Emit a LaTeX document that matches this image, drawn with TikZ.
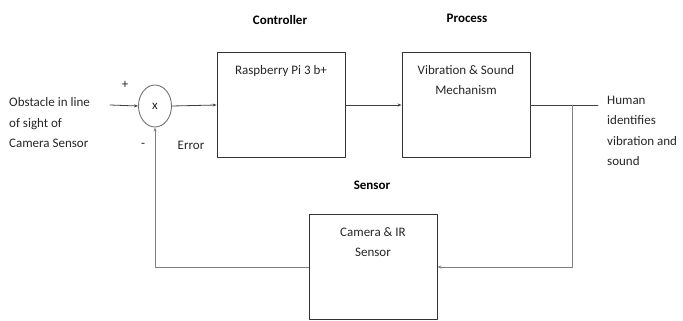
\documentclass[tikz,border=0pt]{standalone}
\usepackage{fontspec}
\setmainfont{Carlito}
\usetikzlibrary{arrows.meta,positioning,shapes.geometric}

\begin{document}
\begin{tikzpicture}[x=1pt,y=-1pt,line cap=round,line join=round,
		font=\fontsize{13}{20.5}\selectfont,
		block/.style={draw=black!80,line width=0.9pt,minimum width=128pt,minimum height=105pt,inner sep=0pt},
		blocktext/.style={text=black!85,align=center,anchor=north,inner sep=0pt},
		title/.style={font=\fontsize{13}{14}\selectfont\bfseries,text=black},
		sig/.style={draw=black!75,line width=0.8pt,-{Stealth[length=4pt,width=3pt]}},
		fb/.style={draw=black!50,line width=0.9pt}]
	\useasboundingbox (0,0) rectangle (683,321);

	% Blocks
	\node[block] (ctrl) at (281,105) {};
	\node[blocktext,below=13pt of ctrl.north] {Raspberry Pi 3 b+};
	\node[block] (proc) at (466,105) {};
	\node[blocktext,below=13pt of proc.north] {Vibration \& Sound\\Mechanism};
	\node[block] (sens) at (373,267) {};
	\node[blocktext,below=13pt of sens.north] {Camera \& IR\\Sensor};

	% Comparator
	\node[ellipse,draw=black!55,line width=0.9pt,minimum width=33pt,minimum height=42pt,inner sep=0pt,text=black!85] (sum) at (155,106) {x};

	% Titles
	\node[title] (tctrl) at (280,20) {Controller};
	\node[title] (tproc) at (467,18) {Process};
	\node[title] (tsens) at (372,185) {Sensor};

	% Signals
	\node[text=black!85,align=left,anchor=west,inner sep=0pt] (input) at (9,123) {Obstacle in line\\of sight of\\Camera Sensor};
	\node[text=black!85,align=left,anchor=west,inner sep=0pt] (output) at (607,131) {Human\\identifies\\vibration and\\sound};
	\node[text=black!85] (plus) at (125,85) {+};
	\node[text=black!85] (minus) at (143,145) {-};
	\node[text=black!85] (err) at (191,145) {Error};

	\coordinate (inp) at (110,105);
	\coordinate (split) at (572,105);
	\coordinate (outp) at (598,105);

	\draw[sig] (inp) -- (sum.west);
	\draw[sig] (sum.east) -- (ctrl.west);
	\draw[sig] (ctrl.east) -- (proc.west);
	\draw[draw=black!75,line width=0.9pt] (proc.east) -- (outp);

	%% feedback loop
	\draw[fb,-{Stealth[length=4pt,width=3pt]}] (split) |- (sens.east);
	\draw[fb,-{Stealth[length=4pt,width=3pt]}] (sens.west) -| (sum.south);
\end{tikzpicture}
\end{document}
